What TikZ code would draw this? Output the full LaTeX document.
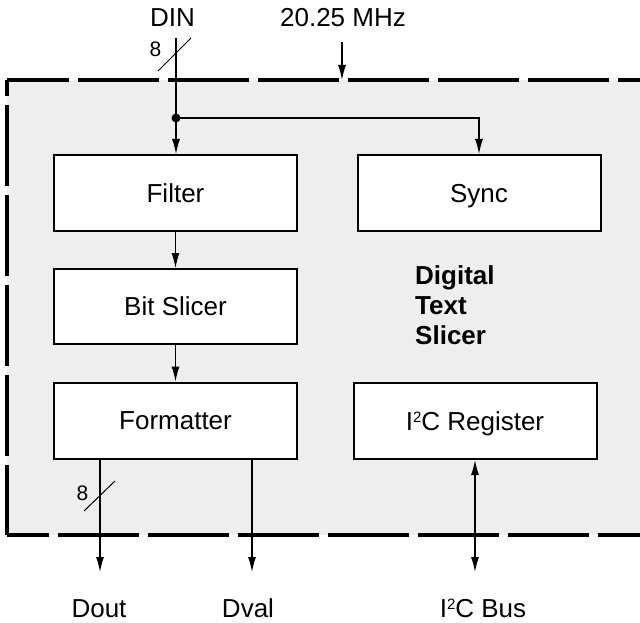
\documentclass[tikz,border=0pt]{standalone}
\usepackage{fontspec}
\setmainfont{Liberation Sans}
\usetikzlibrary{arrows.meta}
\definecolor{bg}{HTML}{EEEEEE}
\newcommand\sqtwo{\raisebox{8pt}{\fontsize{15pt}{15pt}\selectfont 2}}
\begin{document}
\begin{tikzpicture}[x=1pt,y=-1pt,
  box/.style={draw, line width=2pt, fill=white, minimum width=243pt, minimum height=76pt,
    inner sep=0pt, text height=18.6pt, text depth=0pt, font=\fontsize{26pt}{30pt}\selectfont},
  lbl/.style={inner sep=0pt, anchor=base, font=\fontsize{26pt}{30pt}\selectfont},
  blbl/.style={inner sep=0pt, anchor=base west, font=\fontsize{26pt}{30pt}\selectfont\bfseries},
  small/.style={inner sep=0pt, font=\fontsize{21pt}{21pt}\selectfont},
  conn/.style={line width=1.2pt, -{Latex[length=15pt,width=8pt]}},
  biconn/.style={line width=1.2pt, {Latex[length=15pt,width=8pt]}-{Latex[length=15pt,width=8pt]}},
  border/.style={line width=4.5pt, line cap=butt, dash pattern=on 81pt off 9pt},
  slash/.style={line width=1pt}
]
\clip (0,0) rectangle (640,623);
% chip outline
\fill[bg] (7,80) rectangle (660,535);
\draw[border, dash phase=19pt] (7,80) -- (660,80);
\draw[border, dash phase=65pt] (7,80) -- (7,535);
\draw[border, dash phase=39pt] (7,535) -- (660,535);

% blocks
\node[box] (filter) at (175.5,193) {Filter};
\node[box, minimum height=75pt] (bitslicer) at (175.5,306.5) {Bit Slicer};
\node[box] (formatter) at (175.5,420.5) {Formatter};
\node[box] (sync) at (479,193) {Sync};
\node[box] (i2creg) at (475,421) {I\sqtwo C Register};

\node[blbl] (dts1) at (415,284) {Digital};
\node[blbl] (dts2) at (415,314) {Text};
\node[blbl] (dts3) at (415,344) {Slicer};

% top labels and inputs
\node[lbl] (din) at (172.5,27) {DIN};
\node[lbl] (clk) at (343,27) {20.25 MHz};
\coordinate (dinstart) at (176,38);
\coordinate (clkstart) at (342,42);
\coordinate (clkend) at (342,80);
\coordinate (split) at (176,118);

\draw[line width=1.2pt] (dinstart) -- (split);
\draw[conn] (split) -- (filter.north -| split);
\draw[conn] (split) -| (sync.north);
\fill (split) circle (4.5pt);
\draw[conn] (clkstart) -- (clkend);

\coordinate (dinslashA) at (158,71);
\coordinate (dinslashB) at (191,38);
\draw[slash] (dinslashA) -- (dinslashB);
\node[small] (din8) at (155.5,49.5) {8};

% internal flow
\draw[conn] (filter.south) -- (bitslicer.north);
\draw[conn] (bitslicer.south) -- (formatter.north);

% outputs
\coordinate (doutend) at (100,572);
\coordinate (dvalend) at (252,572);
\coordinate (i2cend) at (475,572);
\draw[conn] (formatter.south -| doutend) -- (doutend);
\draw[conn] (formatter.south -| dvalend) -- (dvalend);
\draw[biconn] (i2creg.south) -- (i2cend);

\coordinate (doutslashA) at (84,511);
\coordinate (doutslashB) at (115,481);
\draw[slash] (doutslashA) -- (doutslashB);
\node[small] (dout8) at (82.5,493) {8};

\node[lbl] (dout) at (99,617) {Dout};
\node[lbl] (dval) at (248,617) {Dval};
\node[lbl] (i2cbus) at (483,617) {I\sqtwo C Bus};
\end{tikzpicture}
\end{document}
